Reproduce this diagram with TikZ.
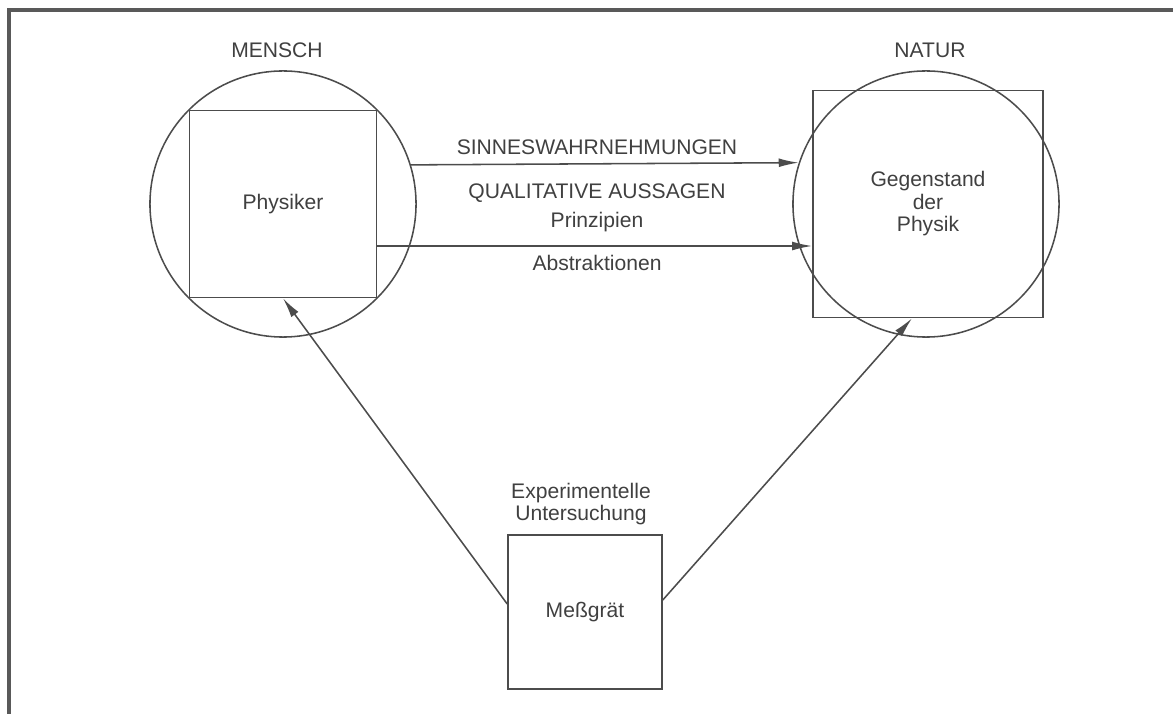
\documentclass[tikz,border=0pt]{standalone}
\usepackage{fontspec}
\setmainfont{Liberation Sans}
\usetikzlibrary{arrows.meta}

\begin{document}
\begin{tikzpicture}[
      x=0.025cm, y=-0.025cm,
      ring/.style={draw=black!70, circle, minimum size=6.65cm, inner sep=0pt, line width=1.1pt},
      box/.style={draw=black!70, rectangle, inner sep=0pt, line width=1.1pt, align=center, text=black!75, font=\fontsize{15}{16}\selectfont},
      lbl/.style={align=center, inner sep=0pt, text=black!75, font=\fontsize{15}{16}\selectfont},
      arr/.style={draw=black!70, line width=1.1pt, -{Latex[length=5mm, width=2.2mm]}},
      frame/.style={draw=black!65, line width=2.2pt}
    ]
    \useasboundingbox (0,0) rectangle (1173,714);
    \draw[frame] (9,714) -- (9,10) -- (1173,10);

    % Nodes
    \node[ring] (lcirc) at (283,204) {};
    \node[box, minimum size=4.675cm] (lsq) at (283,204) {Physiker};
    \node[ring] (rcirc) at (926,204) {};
    \node[box, minimum width=5.75cm, minimum height=5.675cm] (rsq) at (928,204) {Gegenstand\\der\\Physik};
    \node[box, minimum size=3.85cm] (gerat) at (585,612) {Meßgrät};

    \node[lbl] (mensch) at (277,50) {MENSCH};
    \node[lbl] (natur) at (930,50) {NATUR};
    \node[lbl] (sinne) at (597,147) {SINNESWAHRNEHMUNGEN};
    \node[lbl] (qual) at (597,193) {QUALITATIVE AUSSAGEN};
    \node[lbl] (prinz) at (597,222) {Prinzipien};
    \node[lbl] (abstr) at (597,263) {Abstraktionen};
    \node[lbl] (exper) at (581,504) {Experimentelle\\Untersuchung};

    % Edges
    \draw[arr] (lcirc.17.5) -- (rcirc.162.5);
    \draw[arr] ([yshift=-1.05cm]lsq.east) -- ([yshift=-1.05cm]rsq.west);
    \draw[arr] ([yshift=0.2cm]gerat.west) -- (lsq.south);
    \draw[arr] ([yshift=0.3cm]gerat.east) -- ([xshift=-0.4cm]rsq.south);
  \end{tikzpicture}
\end{document}
